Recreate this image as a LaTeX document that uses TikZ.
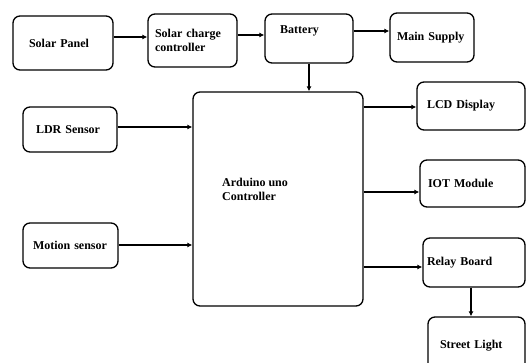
\documentclass[tikz,border=0pt]{standalone}
\usepackage{fontspec}
\setmainfont{Liberation Serif}
\usetikzlibrary{arrows.meta}

\begin{document}
\begin{tikzpicture}[x=1pt,y=-1pt]
\tikzset{bloc/.style={draw, line width=1.3pt, rounded corners=7pt, align=left, inner xsep=0pt, inner ysep=2pt,
  font=\bfseries\fontsize{12}{14}\selectfont},
  texte/.style={inner sep=0pt, align=left, font=\bfseries\fontsize{12}{14}\selectfont},
  fleche/.style={line width=1.3pt, -{Latex[length=5pt,width=5pt]}}}
\clip (0,0) rectangle (528,363);
\fill[white] (0,0) rectangle (528,363);
% ligne du haut
\node[bloc, minimum width=100pt, minimum height=54pt, text width=68pt] (SP) at (63,43) {Solar Panel};
\node[bloc, minimum width=89pt, minimum height=53pt, text width=75pt] (SCC) at (192.5,40.5) {Solar charge\\controller};
\node[bloc, minimum width=88pt, minimum height=49pt] (BAT) at (309,38.5) {};
\node[texte, anchor=west] (BATt) at (280,31) {Battery};
\node[bloc, minimum width=84pt, minimum height=49pt, text width=70pt] (MS) at (432,37.5) {\raisebox{-5pt}{Main Supply}};
% controleur
\node[bloc, minimum width=170pt, minimum height=214pt] (ARD) at (278,199) {};
\node[texte, anchor=north west] (ARDt) at (222,178) {Arduino uno\\Controller};
% entrees
\node[bloc, minimum width=94pt, minimum height=45pt, text width=68pt] (LDR) at (70,129.5) {LDR Sensor};
\node[bloc, minimum width=95pt, minimum height=45pt, text width=75pt] (MOT) at (70.5,245.5) {Motion sensor};
% sorties
\node[bloc, minimum width=108pt, minimum height=48pt, text width=88pt] (LCD) at (471,106) {LCD Display};
\node[bloc, minimum width=105pt, minimum height=47pt, text width=89pt] (IOT) at (472.5,183.5) {IOT Module};
\node[bloc, minimum width=102pt, minimum height=49pt, text width=94pt] (REL) at (474,262.5) {Relay Board};
\node[bloc, minimum width=97pt, minimum height=58pt, text width=73pt] (SL) at (476.5,346) {Street Light};
% liaisons
\draw[fleche] (SP.east |- 0,37) -- (SCC.west |- 0,37);
\draw[fleche] (SCC.east |- 0,35) -- (BAT.west |- 0,35);
\draw[fleche] (BAT.east |- 0,31) -- (MS.west |- 0,31);
\draw[fleche] (BAT.south) -- (ARD.north -| BAT.south);
\draw[fleche] (LDR.east |- 0,127) -- (ARD.west |- 0,127);
\draw[fleche] (MOT.east |- 0,245) -- (ARD.west |- 0,245);
\draw[fleche] (ARD.east |- 0,107) -- (LCD.west |- 0,107);
\draw[fleche] (ARD.east |- 0,192) -- (IOT.west |- 0,192);
\draw[fleche] (ARD.east |- 0,267) -- (REL.west |- 0,267);
\draw[fleche] (REL.south -| 471,0) -- (SL.north -| 471,0);
\end{tikzpicture}
\end{document}
